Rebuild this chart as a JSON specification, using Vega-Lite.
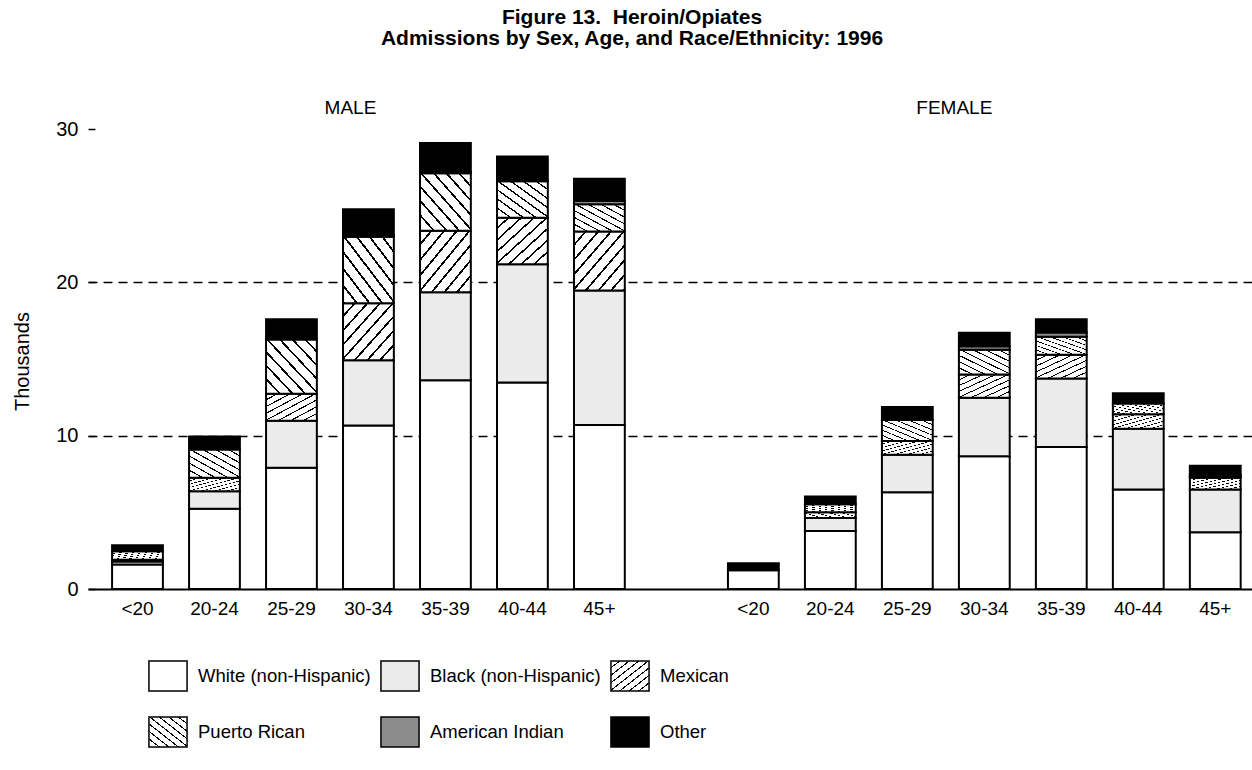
{
  "$schema": "https://vega.github.io/schema/vega-lite/v6.json",
  "width": 1164,
  "height": 460,
  "autosize": {"type": "none"},
  "padding": {"left": 88, "top": 129, "right": 0, "bottom": 181},
  "background": "white",
  "config": {"view": {"stroke": null}, "font": "Liberation Sans"},
  "title": {
    "text": ["Figure 13.\u00a0 Heroin/Opiates", "Admissions by Sex, Age, and Race/Ethnicity: 1996"],
    "font": "Liberation Sans",
    "fontSize": 21,
    "fontWeight": "bold",
    "color": "black",
    "anchor": "middle",
    "frame": "bounds",
    "offset": 50,
    "lineHeight": 21
  },
  "layer": [
    {
      "data": {
        "values": [
          {"sex": "M", "age": "<20", "race": "White (non-Hispanic)", "value": 1.6},
          {"sex": "M", "age": "<20", "race": "Black (non-Hispanic)", "value": 0.2},
          {"sex": "M", "age": "<20", "race": "Mexican", "value": 0.1},
          {"sex": "M", "age": "<20", "race": "Puerto Rican", "value": 0.56},
          {"sex": "M", "age": "<20", "race": "Other", "value": 0.39},
          {"sex": "M", "age": "20-24", "race": "White (non-Hispanic)", "value": 5.23},
          {"sex": "M", "age": "20-24", "race": "Black (non-Hispanic)", "value": 1.15},
          {"sex": "M", "age": "20-24", "race": "Mexican", "value": 0.87},
          {"sex": "M", "age": "20-24", "race": "Puerto Rican", "value": 1.85},
          {"sex": "M", "age": "20-24", "race": "Other", "value": 0.85},
          {"sex": "M", "age": "25-29", "race": "White (non-Hispanic)", "value": 7.91},
          {"sex": "M", "age": "25-29", "race": "Black (non-Hispanic)", "value": 3.06},
          {"sex": "M", "age": "25-29", "race": "Mexican", "value": 1.77},
          {"sex": "M", "age": "25-29", "race": "Puerto Rican", "value": 3.53},
          {"sex": "M", "age": "25-29", "race": "Other", "value": 1.32},
          {"sex": "M", "age": "30-34", "race": "White (non-Hispanic)", "value": 10.67},
          {"sex": "M", "age": "30-34", "race": "Black (non-Hispanic)", "value": 4.25},
          {"sex": "M", "age": "30-34", "race": "Mexican", "value": 3.71},
          {"sex": "M", "age": "30-34", "race": "Puerto Rican", "value": 4.35},
          {"sex": "M", "age": "30-34", "race": "American Indian", "value": 0.12},
          {"sex": "M", "age": "30-34", "race": "Other", "value": 1.66},
          {"sex": "M", "age": "35-39", "race": "White (non-Hispanic)", "value": 13.62},
          {"sex": "M", "age": "35-39", "race": "Black (non-Hispanic)", "value": 5.73},
          {"sex": "M", "age": "35-39", "race": "Mexican", "value": 4.02},
          {"sex": "M", "age": "35-39", "race": "Puerto Rican", "value": 3.74},
          {"sex": "M", "age": "35-39", "race": "American Indian", "value": 0.05},
          {"sex": "M", "age": "35-39", "race": "Other", "value": 1.92},
          {"sex": "M", "age": "40-44", "race": "White (non-Hispanic)", "value": 13.46},
          {"sex": "M", "age": "40-44", "race": "Black (non-Hispanic)", "value": 7.72},
          {"sex": "M", "age": "40-44", "race": "Mexican", "value": 3.03},
          {"sex": "M", "age": "40-44", "race": "Puerto Rican", "value": 2.38},
          {"sex": "M", "age": "40-44", "race": "Other", "value": 1.62},
          {"sex": "M", "age": "45+", "race": "White (non-Hispanic)", "value": 10.69},
          {"sex": "M", "age": "45+", "race": "Black (non-Hispanic)", "value": 8.77},
          {"sex": "M", "age": "45+", "race": "Mexican", "value": 3.85},
          {"sex": "M", "age": "45+", "race": "Puerto Rican", "value": 1.79},
          {"sex": "M", "age": "45+", "race": "American Indian", "value": 0.2},
          {"sex": "M", "age": "45+", "race": "Other", "value": 1.45},
          {"sex": "F", "age": "<20", "race": "White (non-Hispanic)", "value": 1.22},
          {"sex": "F", "age": "<20", "race": "Other", "value": 0.46},
          {"sex": "F", "age": "20-24", "race": "White (non-Hispanic)", "value": 3.78},
          {"sex": "F", "age": "20-24", "race": "Black (non-Hispanic)", "value": 0.85},
          {"sex": "F", "age": "20-24", "race": "Mexican", "value": 0.37},
          {"sex": "F", "age": "20-24", "race": "Puerto Rican", "value": 0.52},
          {"sex": "F", "age": "20-24", "race": "Other", "value": 0.52},
          {"sex": "F", "age": "25-29", "race": "White (non-Hispanic)", "value": 6.31},
          {"sex": "F", "age": "25-29", "race": "Black (non-Hispanic)", "value": 2.45},
          {"sex": "F", "age": "25-29", "race": "Mexican", "value": 0.89},
          {"sex": "F", "age": "25-29", "race": "Puerto Rican", "value": 1.37},
          {"sex": "F", "age": "25-29", "race": "Other", "value": 0.85},
          {"sex": "F", "age": "30-34", "race": "White (non-Hispanic)", "value": 8.65},
          {"sex": "F", "age": "30-34", "race": "Black (non-Hispanic)", "value": 3.82},
          {"sex": "F", "age": "30-34", "race": "Mexican", "value": 1.52},
          {"sex": "F", "age": "30-34", "race": "Puerto Rican", "value": 1.62},
          {"sex": "F", "age": "30-34", "race": "American Indian", "value": 0.22},
          {"sex": "F", "age": "30-34", "race": "Other", "value": 0.88},
          {"sex": "F", "age": "35-39", "race": "White (non-Hispanic)", "value": 9.26},
          {"sex": "F", "age": "35-39", "race": "Black (non-Hispanic)", "value": 4.47},
          {"sex": "F", "age": "35-39", "race": "Mexican", "value": 1.54},
          {"sex": "F", "age": "35-39", "race": "Puerto Rican", "value": 1.18},
          {"sex": "F", "age": "35-39", "race": "American Indian", "value": 0.28},
          {"sex": "F", "age": "35-39", "race": "Other", "value": 0.87},
          {"sex": "F", "age": "40-44", "race": "White (non-Hispanic)", "value": 6.49},
          {"sex": "F", "age": "40-44", "race": "Black (non-Hispanic)", "value": 3.96},
          {"sex": "F", "age": "40-44", "race": "Mexican", "value": 0.95},
          {"sex": "F", "age": "40-44", "race": "Puerto Rican", "value": 0.69},
          {"sex": "F", "age": "40-44", "race": "Other", "value": 0.67},
          {"sex": "F", "age": "45+", "race": "White (non-Hispanic)", "value": 3.7},
          {"sex": "F", "age": "45+", "race": "Black (non-Hispanic)", "value": 2.79},
          {"sex": "F", "age": "45+", "race": "Mexican", "value": 0.76},
          {"sex": "F", "age": "45+", "race": "Puerto Rican", "value": 0.05},
          {"sex": "F", "age": "45+", "race": "American Indian", "value": 0.15},
          {"sex": "F", "age": "45+", "race": "Other", "value": 0.58}
        ]
      },
      "transform": [
        {"calculate": "datum.sex + '|' + datum.age", "as": "slot"},
        {"calculate": "indexof(['White (non-Hispanic)', 'Black (non-Hispanic)', 'Mexican', 'Puerto Rican', 'American Indian', 'Other'], datum.race)", "as": "ord"}
      ],
      "mark": {"type": "bar", "stroke": "black", "strokeWidth": 2},
      "encoding": {
        "x": {
          "field": "slot",
          "type": "nominal",
          "sort": null,
          "scale": {
            "domain": ["M|<20", "M|20-24", "M|25-29", "M|30-34", "M|35-39", "M|40-44", "M|45+", "gap", "F|<20", "F|20-24", "F|25-29", "F|30-34", "F|35-39", "F|40-44", "F|45+"],
            "paddingInner": 0.34,
            "paddingOuter": 0.23,
            "align": 0.68
          },
          "axis": {
            "title": null,
            "labelExpr": "datum.value == 'gap' ? '' : split(datum.value, '|')[1]",
            "ticks": false,
            "domainColor": "black",
            "domainWidth": 2,
            "labelFont": "Liberation Sans",
            "labelFontSize": 19,
            "labelColor": "black",
            "labelPadding": 10,
            "labelAngle": 0
          }
        },
        "y": {
          "field": "value",
          "type": "quantitative",
          "stack": "zero",
          "scale": {"domain": [0, 30], "nice": false},
          "axis": {
            "title": "Thousands",
            "values": [0, 10, 20, 30],
            "domain": false,
            "tickSize": -7,
            "tickColor": "black",
            "tickWidth": 1.5,
            "labelFont": "Liberation Sans",
            "labelFontSize": 20,
            "labelColor": "black",
            "labelPadding": 17,
            "grid": true,
            "gridColor": "black",
            "gridDash": [9, 6],
            "gridWidth": 1.3,
            "gridOpacity": {"condition": {"test": "datum.value == 10 || datum.value == 20", "value": 1}, "value": 0},
            "titleFont": "Liberation Sans",
            "titleFontSize": 20,
            "titleFontWeight": "normal",
            "titleColor": "black",
            "titleX": -66,
            "titleY": 232,
            "titleAngle": 270,
            "titleBaseline": "middle",
            "titleAlign": "center"
          }
        },
        "order": {"field": "ord", "type": "quantitative", "sort": "ascending"},
        "fill": {
          "field": "race",
          "type": "nominal",
          "sort": ["White (non-Hispanic)", "Black (non-Hispanic)", "Mexican", "Puerto Rican", "American Indian", "Other"],
          "scale": {
            "domain": ["White (non-Hispanic)", "Black (non-Hispanic)", "Mexican", "Puerto Rican", "American Indian", "Other"],
            "range": [
              {"expr": "'#ffffff'"},
              {"expr": "'#ebebeb'"},
              {"expr": "{gradient:'linear',x1:0,y1:0,x2:1,y2:1,stops:[{offset:0,color:'#fff'},{offset:0.1025,color:'#fff'},{offset:0.1025,color:'#000'},{offset:0.125,color:'#000'},{offset:0.125,color:'#fff'},{offset:0.2275,color:'#fff'},{offset:0.2275,color:'#000'},{offset:0.25,color:'#000'},{offset:0.25,color:'#fff'},{offset:0.3525,color:'#fff'},{offset:0.3525,color:'#000'},{offset:0.375,color:'#000'},{offset:0.375,color:'#fff'},{offset:0.4775,color:'#fff'},{offset:0.4775,color:'#000'},{offset:0.5,color:'#000'},{offset:0.5,color:'#fff'},{offset:0.6025,color:'#fff'},{offset:0.6025,color:'#000'},{offset:0.625,color:'#000'},{offset:0.625,color:'#fff'},{offset:0.7275,color:'#fff'},{offset:0.7275,color:'#000'},{offset:0.75,color:'#000'},{offset:0.75,color:'#fff'},{offset:0.8525,color:'#fff'},{offset:0.8525,color:'#000'},{offset:0.875,color:'#000'},{offset:0.875,color:'#fff'},{offset:0.9775,color:'#fff'},{offset:0.9775,color:'#000'},{offset:1,color:'#000'}]}"},
              {"expr": "{gradient:'linear',x1:1,y1:0,x2:0,y2:1,stops:[{offset:0,color:'#fff'},{offset:0.1025,color:'#fff'},{offset:0.1025,color:'#000'},{offset:0.125,color:'#000'},{offset:0.125,color:'#fff'},{offset:0.2275,color:'#fff'},{offset:0.2275,color:'#000'},{offset:0.25,color:'#000'},{offset:0.25,color:'#fff'},{offset:0.3525,color:'#fff'},{offset:0.3525,color:'#000'},{offset:0.375,color:'#000'},{offset:0.375,color:'#fff'},{offset:0.4775,color:'#fff'},{offset:0.4775,color:'#000'},{offset:0.5,color:'#000'},{offset:0.5,color:'#fff'},{offset:0.6025,color:'#fff'},{offset:0.6025,color:'#000'},{offset:0.625,color:'#000'},{offset:0.625,color:'#fff'},{offset:0.7275,color:'#fff'},{offset:0.7275,color:'#000'},{offset:0.75,color:'#000'},{offset:0.75,color:'#fff'},{offset:0.8525,color:'#fff'},{offset:0.8525,color:'#000'},{offset:0.875,color:'#000'},{offset:0.875,color:'#fff'},{offset:0.9775,color:'#fff'},{offset:0.9775,color:'#000'},{offset:1,color:'#000'}]}"},
              {"expr": "'#8c8c8c'"},
              {"expr": "'#000000'"}
            ]
          },
          "legend": {
            "orient": "none",
            "legendX": 64,
            "legendY": 531,
            "direction": "horizontal",
            "columns": 3,
            "title": null,
            "symbolType": "M-1.27,-1H1.27V1H-1.27Z",
            "symbolSize": 900,
            "symbolStrokeColor": "black",
            "symbolStrokeWidth": 1.5,
            "symbolOpacity": 1,
            "labelFont": "Liberation Sans",
            "labelFontSize": 18.5,
            "labelColor": "black",
            "labelOffset": 14,
            "columnPadding": 6,
            "rowPadding": 20,
            "labelLimit": 400
          }
        }
      }
    },
    {
      "data": {"values": [{}]},
      "mark": {"type": "text", "text": "MALE", "font": "Liberation Sans", "fontSize": 19, "color": "black", "dx": -18},
      "encoding": {
        "x": {"datum": "M|30-34", "type": "nominal", "title": null},
        "y": {"datum": 31.4, "type": "quantitative", "title": null}
      }
    },
    {
      "data": {"values": [{}]},
      "mark": {"type": "text", "text": "FEMALE", "font": "Liberation Sans", "fontSize": 19, "color": "black", "dx": -30},
      "encoding": {
        "x": {"datum": "F|30-34", "type": "nominal", "title": null},
        "y": {"datum": 31.4, "type": "quantitative", "title": null}
      }
    }
  ]
}
